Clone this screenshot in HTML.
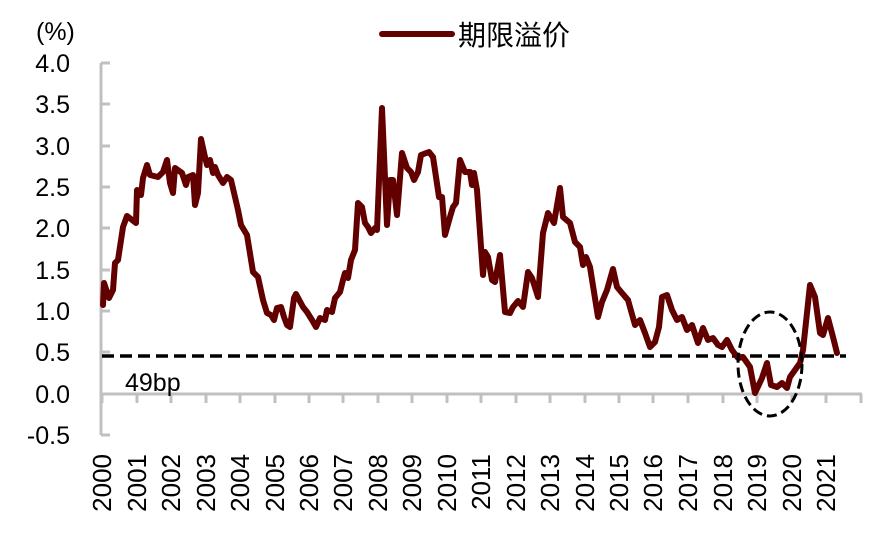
<!DOCTYPE html>
<html><head><meta charset="utf-8"><style>
html,body{margin:0;padding:0;background:#fff;}
svg{display:block;}
text{font-family:"Liberation Sans","Noto Sans CJK SC",sans-serif;fill:#000;}
</style></head><body>
<svg width="888" height="540" viewBox="0 0 888 540" xmlns="http://www.w3.org/2000/svg">
<g stroke="#c0c0c0" stroke-width="3" fill="none">
<line x1="101" y1="63" x2="101" y2="435"/>
<line x1="101" y1="63" x2="110" y2="63"/>
<line x1="101" y1="104" x2="110" y2="104"/>
<line x1="101" y1="146" x2="110" y2="146"/>
<line x1="101" y1="187" x2="110" y2="187"/>
<line x1="101" y1="228" x2="110" y2="228"/>
<line x1="101" y1="270" x2="110" y2="270"/>
<line x1="101" y1="311" x2="110" y2="311"/>
<line x1="101" y1="352" x2="110" y2="352"/>
<line x1="101" y1="435" x2="110" y2="435"/>
<line x1="101" y1="394" x2="862" y2="394"/>
<path d="M102 394v9M137 394v9M171 394v9M206 394v9M240 394v9M275 394v9M309 394v9M343 394v9M378 394v9M412 394v9M447 394v9M481 394v9M516 394v9M550 394v9M585 394v9M619 394v9M653 394v9M688 394v9M723 394v9M757 394v9M792 394v9M826 394v9M861 394v9"/>
</g>
<g font-size="25" text-anchor="end">
<text x="70" y="72">4.0</text>
<text x="70" y="113">3.5</text>
<text x="70" y="155">3.0</text>
<text x="70" y="196">2.5</text>
<text x="70" y="237">2.0</text>
<text x="70" y="279">1.5</text>
<text x="70" y="320">1.0</text>
<text x="70" y="361">0.5</text>
<text x="70" y="403">0.0</text>
<text x="70" y="444">-0.5</text>
</g>
<text x="36" y="40" font-size="25">(%)</text>
<g font-size="26" text-anchor="end">
<text transform="translate(111,454) rotate(-90)">2000</text>
<text transform="translate(146,454) rotate(-90)">2001</text>
<text transform="translate(180,454) rotate(-90)">2002</text>
<text transform="translate(215,454) rotate(-90)">2003</text>
<text transform="translate(249,454) rotate(-90)">2004</text>
<text transform="translate(284,454) rotate(-90)">2005</text>
<text transform="translate(318,454) rotate(-90)">2006</text>
<text transform="translate(352,454) rotate(-90)">2007</text>
<text transform="translate(387,454) rotate(-90)">2008</text>
<text transform="translate(421,454) rotate(-90)">2009</text>
<text transform="translate(456,454) rotate(-90)">2010</text>
<text transform="translate(490,454) rotate(-90)">2011</text>
<text transform="translate(525,454) rotate(-90)">2012</text>
<text transform="translate(559,454) rotate(-90)">2013</text>
<text transform="translate(594,454) rotate(-90)">2014</text>
<text transform="translate(628,454) rotate(-90)">2015</text>
<text transform="translate(662,454) rotate(-90)">2016</text>
<text transform="translate(697,454) rotate(-90)">2017</text>
<text transform="translate(732,454) rotate(-90)">2018</text>
<text transform="translate(766,454) rotate(-90)">2019</text>
<text transform="translate(801,454) rotate(-90)">2020</text>
<text transform="translate(835,454) rotate(-90)">2021</text>
</g>
<line x1="102" y1="356" x2="846" y2="356" stroke="#000" stroke-width="3.5" stroke-dasharray="12,6"/>
<text x="125" y="391" font-size="25">49bp</text>
<polyline fill="none" stroke="#620000" stroke-width="6" stroke-linejoin="round" stroke-linecap="round" points="
103,305 104,283 109,298 113,290 115,263 118,260 123,227 127,216 136,223 137,190 141,195 143,178 147,165 150,175 158,177 163,172 167,160 170,183 173,193 175,168 182,173 186,185 188,177 193,175 195,205 198,193 201,139 205,157 207,165 210,160 213,173 215,167 218,175 223,183 227,177 231,180 235,197 238,210 241,225 247,235 253,272 258,277 263,300 267,313 271,315 274,320 277,308 281,307 284,317 287,325 290,327 294,298 296,294
303,307 307,312 312,320 316,327 320,318 325,320 327,310 332,312 335,298 340,292 343,280 345,273 348,278 351,260 355,250 358,203 362,207 365,223 368,227 371,233 375,228 377,230 382,108 387,225 390,180 393,180 397,215 402,153 407,168 411,172 414,180 418,172 421,155 429,152 433,157 439,197 442,197 445,235 450,217 453,207 456,203 460,160 465,172 470,172 472,185 474,173 477,190 483,275 485,252 488,257 492,280 495,282 500,255 505,312 510,313 513,307 518,301 523,307 528,272 532,278 538,297 543,233 548,213 554,223 560,188 563,217 570,223 575,242 580,247 583,265 586,257 590,267 598,317 602,302 607,290 613,269 617,287 622,293 628,300 635,325 640,320 645,333 650,347 655,342 659,327 662,297 667,295 672,310 677,320 682,317 687,330 692,325 698,343 703,328 708,340 713,338 718,345 722,347 727,340 732,350 738,358 743,357 750,367 755,393 762,378 767,363 771,385 777,387 782,383 787,388 790,377 795,370 800,363 803,350 810,285 815,297 820,333 823,335 828,318 833,337 837,353"/>
<ellipse cx="770" cy="364" rx="32" ry="52" fill="none" stroke="#000" stroke-width="3" stroke-dasharray="10,5"/>
<line x1="382" y1="34" x2="452" y2="34" stroke="#620000" stroke-width="6" stroke-linecap="round"/>
<text x="458" y="45" font-size="28">期限溢价</text>
</svg>
</body></html>
